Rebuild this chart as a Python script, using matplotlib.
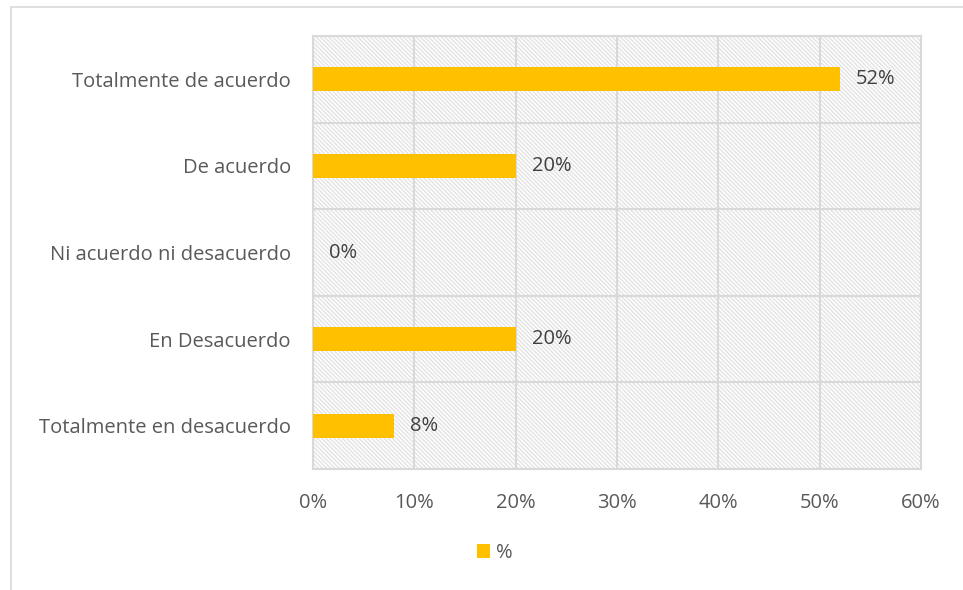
import matplotlib.pyplot as plt
from matplotlib.patches import Rectangle
from matplotlib.ticker import PercentFormatter

categories = ["Totalmente de acuerdo", "De acuerdo", "Ni acuerdo ni desacuerdo",
              "En Desacuerdo", "Totalmente en desacuerdo"]
values = [52, 20, 0, 20, 8]
xticks = [0, 10, 20, 30, 40, 50, 60]

plt.rcParams['font.family'] = ['Open Sans', 'DejaVu Sans']
plt.rcParams['hatch.linewidth'] = 1.0
grid_color = '#d9d9d9'
text_color = '#595959'

fig = plt.figure(figsize=(9.63, 5.9), dpi=100)
ax = fig.add_axes([313 / 963, 1 - 469 / 590, (921 - 313) / 963, (469 - 36) / 590])

# outer chart border (partly cut off in the original)
fig.patches.append(Rectangle((11 / 963, -0.1), 1.2, 1 - 7 / 590 + 0.1, transform=fig.transFigure,
                             fill=False, edgecolor=grid_color, linewidth=1.2))

# hatched plot area
ax.add_patch(Rectangle((0, 0), 1, 1, transform=ax.transAxes, facecolor='white',
                       edgecolor='#e3e3e3', hatch='\\' * 8, linewidth=0, zorder=0))

y = list(range(len(categories)))
bars = ax.barh(y, values, height=0.28, color='#ffc000', zorder=3, label='%')

for yi, v in zip(y, values):
    ax.text(v + 1.6, yi, f"{v}%", va='center', ha='left', fontsize=14.5, color='#404040', zorder=4)

ax.set_xlim(0, 60)
ax.set_ylim(len(categories) - 0.5, -0.5)
ax.set_xticks(xticks)
ax.xaxis.set_major_formatter(PercentFormatter(decimals=0))
ax.set_yticks(y)
ax.set_yticklabels(categories)
ax.set_yticks([i - 0.5 for i in range(len(categories) + 1)], minor=True)

ax.grid(axis='x', which='major', color=grid_color, linewidth=1.5, zorder=1)
ax.grid(axis='y', which='minor', color=grid_color, linewidth=1.5, zorder=1)
ax.set_axisbelow(True)
ax.tick_params(axis='both', which='both', length=0, labelsize=14.5, labelcolor=text_color)
ax.tick_params(axis='x', pad=17)
ax.tick_params(axis='y', pad=16)
for s in ax.spines.values():
    s.set_color(grid_color)
    s.set_linewidth(1.5)

fig.legend(handles=[bars], labels=['%'], loc='center', bbox_to_anchor=(495 / 963, 1 - 553 / 590),
           frameon=False, fontsize=14.5, handlelength=0.65, handleheight=0.65, handletextpad=0.3,
           labelcolor=text_color)

fig.savefig('out.png', dpi=100)
